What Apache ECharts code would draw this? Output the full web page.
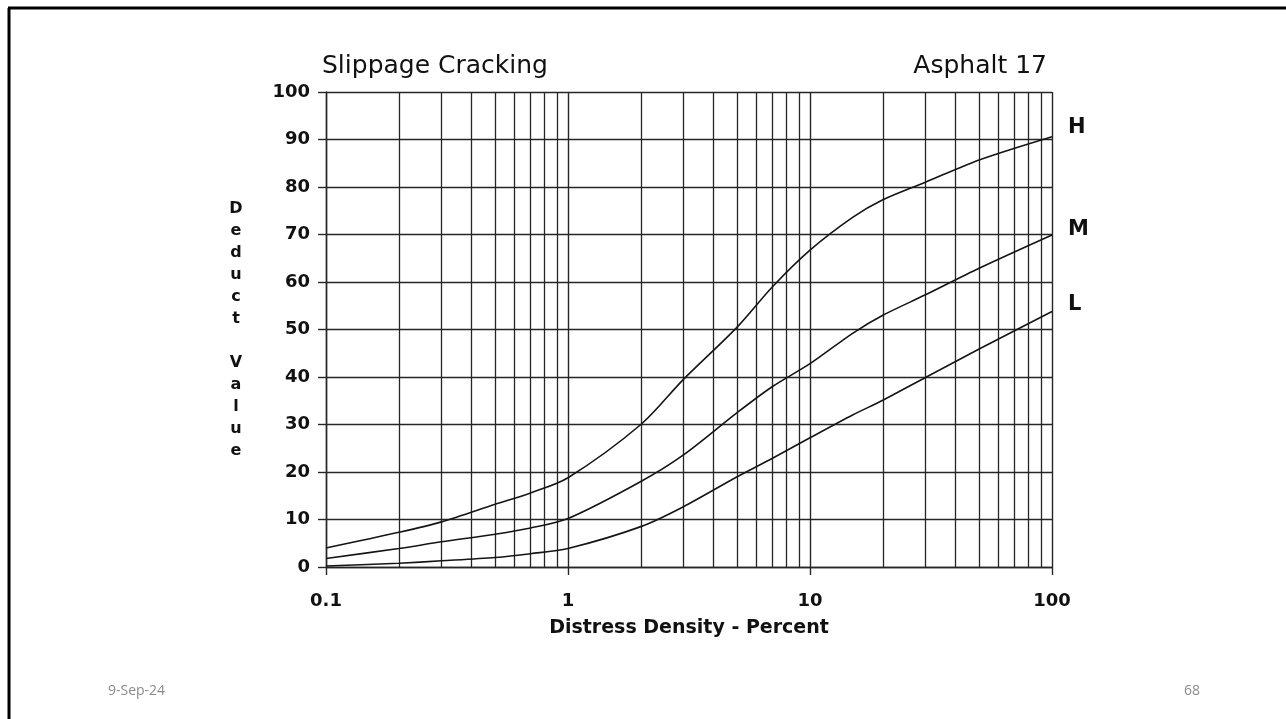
<!DOCTYPE html>
<html><head><meta charset="utf-8">
<script src="https://cdn.jsdelivr.net/npm/echarts@6/dist/echarts.min.js"></script>
<style>html,body{margin:0;padding:0;background:#fff}#c{width:1286px;height:719px}</style>
</head><body><div id="c"></div>
<script>
// Distress density (percent) and deduct values
const density = [0.1, 0.2, 0.3, 0.5, 0.7, 1, 2, 3, 5, 7, 10, 15, 20, 30, 50, 100];
const high    = [4.0, 7.3, 9.5, 13.2, 15.6, 18.8, 30, 39.5, 50.5, 59, 66.7, 73.6, 77.3, 81, 85.7, 90.6];
const medium  = [1.8, 3.9, 5.3, 6.9, 8.2, 10.2, 18, 23.6, 32.5, 38, 42.8, 49.2, 53, 57.3, 62.9, 69.9];
const low     = [0.2, 0.8, 1.3, 2.0, 2.8, 3.9, 8.5, 12.7, 19.0, 22.9, 27.2, 32, 35.1, 39.9, 45.9, 53.8];
const severityNames = ['H', 'M', 'L'];
const minorGrid = [0.2,0.3,0.4,0.5,0.6,0.7,0.8,0.9, 2,3,4,5,6,7,8,9, 20,30,40,50,60,70,80,90];
const titleText = 'Slippage Cracking';
const subText = 'Asphalt 17';
const xName = 'Distress Density - Percent';
const yName = 'Deduct Value';
const footLeft = '9-Sep-24';
const footRight = '68';

const zip = (xs, ys) => xs.map((x, i) => [x, ys[i]]);
const gridColor = '#262626';
const lineColor = '#151515';
const tickFont = { fontFamily: 'DejaVu Sans', fontWeight: 'bold', fontSize: 18, color: '#111' };

function curve(name, values, offY) {
  return {
    name, type: 'line', data: zip(density, values), smooth: 0.3,
    showSymbol: false, silent: true,
    lineStyle: { color: lineColor, width: 1.6 },
    endLabel: { show: true, formatter: name, distance: 16, offset: [0, offY],
      fontFamily: 'DejaVu Sans', fontWeight: 'bold', fontSize: 21, color: '#111' },
    z: 5
  };
}

const chart = echarts.init(document.getElementById('c'), null, { renderer: 'canvas' });
chart.setOption({
  animation: false,
  backgroundColor: '#fff',
  title: [
    { text: titleText, left: 322, top: 54, padding: 0, textStyle: { fontFamily: 'DejaVu Sans', fontWeight: 'normal', fontSize: 25, color: '#111' } },
    { text: subText, right: 239, top: 54, padding: 0, textStyle: { fontFamily: 'DejaVu Sans', fontWeight: 'normal', fontSize: 25, color: '#111' } },
    { text: footLeft, left: 108, top: 684, padding: 0, textStyle: { fontFamily: 'Open Sans', fontWeight: 'normal', fontSize: 14, color: '#8a8a8a' } },
    { text: footRight, right: 86, top: 684, padding: 0, textStyle: { fontFamily: 'Open Sans', fontWeight: 'normal', fontSize: 14, color: '#8a8a8a' } }
  ],
  graphic: [
    { type: 'line', shape: { x1: 8, y1: 8, x2: 1286, y2: 8 }, style: { stroke: '#000', lineWidth: 3 } },
    { type: 'line', shape: { x1: 9, y1: 8, x2: 9, y2: 719 }, style: { stroke: '#000', lineWidth: 3 } }
  ],
  grid: { left: 326, right: 234, top: 92, bottom: 152 },
  xAxis: {
    type: 'log', logBase: 10, min: 0.1, max: 100,
    name: xName, nameLocation: 'middle', nameGap: 52,
    nameTextStyle: { fontFamily: 'DejaVu Sans', fontWeight: 'bold', fontSize: 19, color: '#111' },
    axisLine: { show: true, lineStyle: { color: gridColor, width: 1.4 } },
    axisTick: { show: true, length: 8, lineStyle: { color: gridColor, width: 1.4 } },
    axisLabel: Object.assign({ margin: 25, formatter: v => String(v) }, tickFont),
    splitLine: { show: true, lineStyle: { color: gridColor, width: 1.4 } }
  },
  yAxis: {
    type: 'value', min: 0, max: 100, interval: 10,
    name: yName.split('').join('\n'), nameLocation: 'middle', nameGap: 90, nameRotate: 0,
    nameTextStyle: { fontFamily: 'DejaVu Sans', fontWeight: 'bold', fontSize: 16, color: '#111', align: 'center', lineHeight: 22 },
    axisLine: { show: true, lineStyle: { color: gridColor, width: 1.4 } },
    axisTick: { show: true, length: 8, lineStyle: { color: gridColor, width: 1.4 } },
    axisLabel: Object.assign({ margin: 16 }, tickFont),
    splitLine: { show: true, lineStyle: { color: gridColor, width: 1.4 } }
  },
  series: [
    Object.assign(curve(severityNames[0], high, -9), {
      markLine: { silent: true, symbol: 'none', label: { show: false },
        lineStyle: { color: gridColor, width: 1.3, type: 'solid' },
        data: minorGrid.map(v => ({ xAxis: v })) , z: 1 }
    }),
    curve(severityNames[1], medium, -5),
    curve(severityNames[2], low, -7)
  ]
});
</script></body></html>
